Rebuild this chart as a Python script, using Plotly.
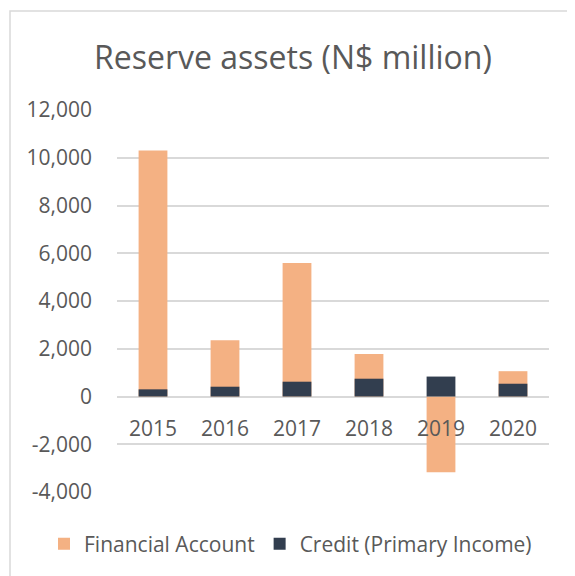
import plotly.graph_objects as go

years = ["2015", "2016", "2017", "2018", "2019", "2020"]
financial_account = [10300, 2360, 5590, 1780, -3170, 1060]
credit_primary_income = [300, 410, 620, 745, 835, 535]
y_ticks = [-4000, -2000, 0, 2000, 4000, 6000, 8000, 10000, 12000]
y_tick_labels = ["-4,000", "-2,000", "0", "2,000", "4,000", "6,000", "8,000", "10,000", "12,000"]

# page body adds an 8px offset; compensate
OFF = 8
W, H = 575, 576
L, R, T, B = 117 - OFF, 26 + OFF, 110 - OFF, 84 + OFF
pw, ph = W - L - R, H - T - B

def px_x(x):
    return (x - OFF - L) / pw

def px_y(y):
    return (H - (y - OFF) - B) / ph

fig = go.Figure()
fig.add_trace(go.Bar(x=years, y=financial_account, name="Financial Account",
                     marker=dict(color="#F4B183", line=dict(width=0)), width=0.4))
fig.add_trace(go.Bar(x=years, y=credit_primary_income, name="Credit (Primary Income)",
                     marker=dict(color="#323E4F", line=dict(width=0)), width=0.4))

annotations = [dict(x=i, y=0, xref="x", yref="y", text=yr, showarrow=False,
                    yshift=-31, font=dict(size=21, color="#595959", family="Open Sans"))
               for i, yr in enumerate(years)]
annotations.append(dict(x=px_x(293), y=px_y(56), xref="paper", yref="paper",
                        xanchor="center", yanchor="middle", showarrow=False,
                        text="Reserve assets (N$ million)",
                        font=dict(size=32, color="#595959", family="Open Sans")))

fig.update_layout(
    width=W, height=H,
    margin=dict(l=L, r=R, t=T, b=B),
    barmode="overlay",
    plot_bgcolor="white", paper_bgcolor="white",
    font=dict(family="Open Sans", size=21, color="#595959"),
    xaxis=dict(type="category", showticklabels=False, showgrid=False, zeroline=False,
               showline=False, range=[-0.5, 5.5]),
    yaxis=dict(range=[-4000, 12000], tickvals=y_ticks, ticktext=y_tick_labels,
               gridcolor="#D9D9D9", gridwidth=1.5, zeroline=True,
               zerolinecolor="#D9D9D9", zerolinewidth=1.5, showline=False,
               ticks="", ticklabelstandoff=24, tickfont=dict(size=21, color="#595959")),
    legend=dict(orientation="h", x=px_x(44), xanchor="left", y=px_y(544),
                yanchor="middle", font=dict(size=21, color="#595959"),
                traceorder="normal"),
    annotations=annotations,
    shapes=[dict(type="rect", xref="paper", yref="paper", x0=px_x(10), x1=px_x(600),
                 y0=px_y(620), y1=px_y(11), line=dict(color="#D9D9D9", width=1.5),
                 layer="below")],
)

fig.write_html("out.html")
